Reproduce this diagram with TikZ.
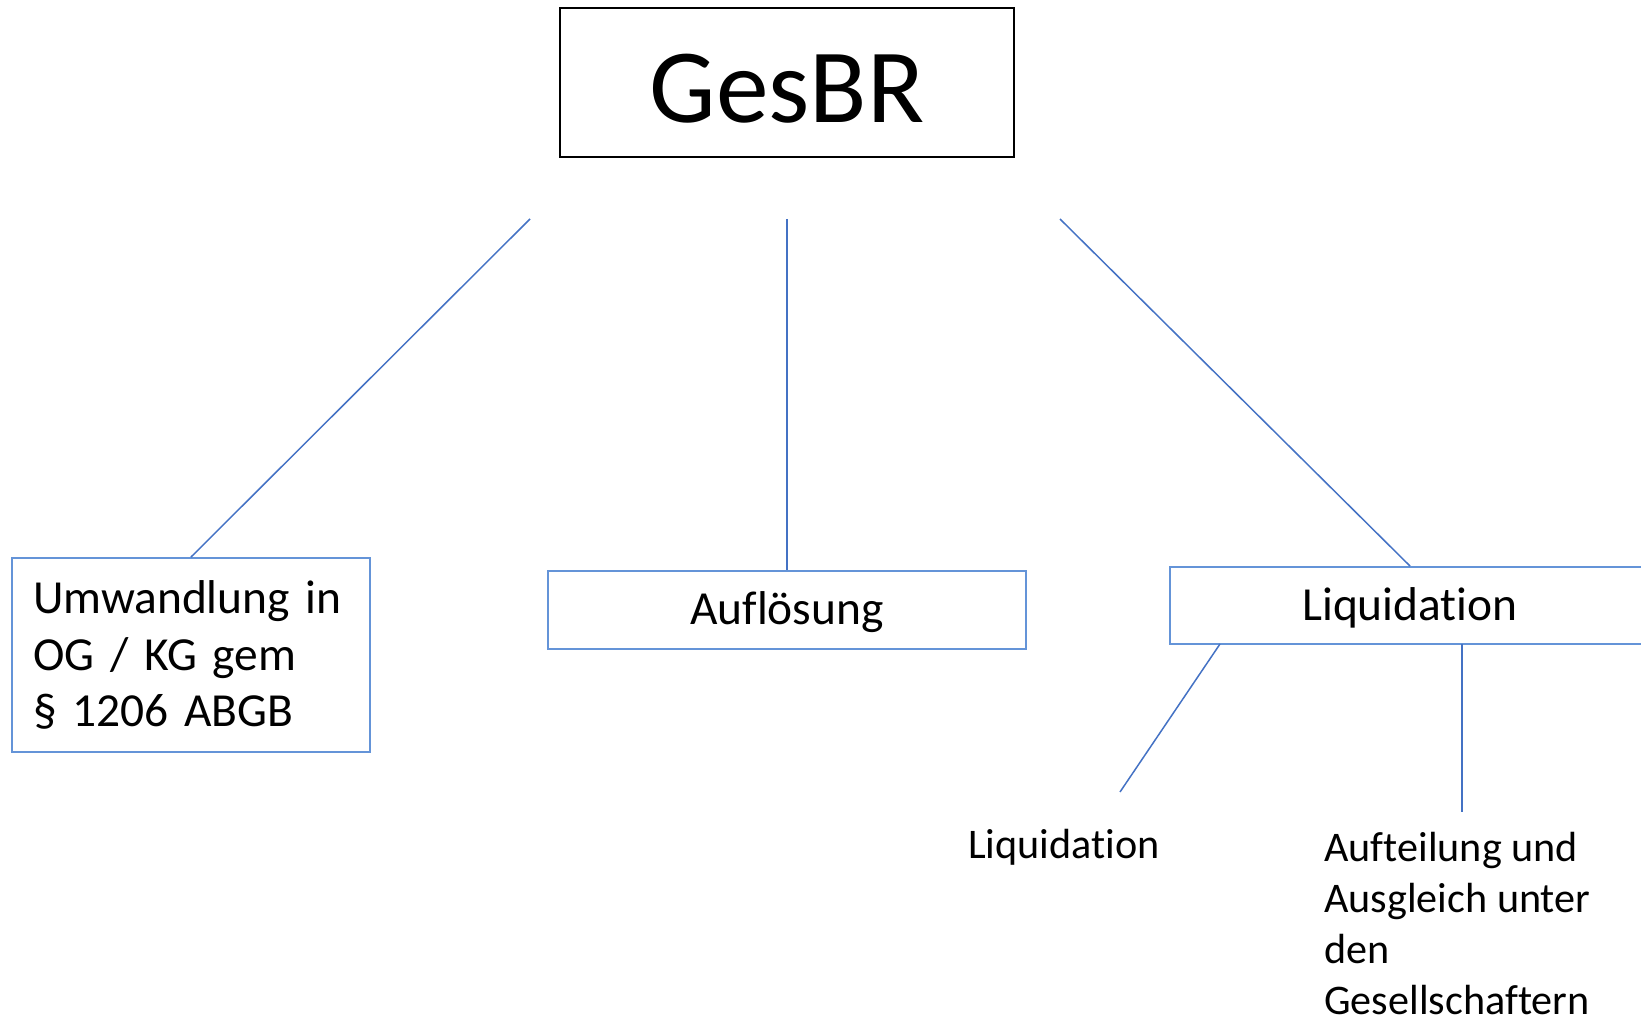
\documentclass[tikz,border=0pt]{standalone}
\usepackage{fontspec}
\setmainfont{Carlito}[Ligatures={NoCommon,NoRequired,NoContextual}]
\definecolor{linkblue}{HTML}{4472C4}
\definecolor{boxblue}{HTML}{6494D8}

\begin{document}
\begin{tikzpicture}[x=0.02cm,y=-0.02cm,
  headbox/.style={draw=black,line width=1.1pt,minimum width=9.08cm,minimum height=2.98cm,
    text height=45pt,text depth=0pt,font=\fontsize{60}{72}\selectfont},
  subbox/.style={draw=boxblue,line width=1.1pt,font=\fontsize{27}{32.4}\selectfont},
  leaf/.style={font=\fontsize{24}{29}\selectfont,inner sep=0pt},
  link/.style={draw=linkblue,line width=0.85pt}]
\useasboundingbox (0,0) rectangle (1641,1023);
\clip (0,0) rectangle (1641,1023);
%% nodes
\node[headbox] (gesbr) at (787,82.5) {GesBR};
\node[subbox,text width=6.32cm,inner xsep=0.42cm,minimum height=3.88cm,align=left] (umw) at (191,655)
  {Umwandlung in\\OG / KG gem\\§ 1206 ABGB};
\node[subbox,minimum width=9.56cm,minimum height=1.56cm,text depth=2pt] (aufl) at (787,610) {Auflösung};
\node[subbox,minimum width=9.6cm,minimum height=1.54cm,text depth=2pt] (liq) at (1410,605.5) {Liquidation};
\node[leaf] (liqsub) at (1064,847) {Liquidation};
\node[leaf,anchor=north west,align=left] (aufteil) at (1324,832)
  {Aufteilung und\\Ausgleich unter\\den\\Gesellschaftern};
%% free ends
\coordinate (gL) at (530,219);
\coordinate (gM) at (787,219);
\coordinate (gR) at (1060,219);
\coordinate (lA) at (1220,644);
\coordinate (lB) at (1462,644);
\coordinate (eA) at (1120,792);
\coordinate (eB) at (1462,812);
%%% edges
\draw[link] (gL) -- (umw.north);
\draw[link] (gM) -- (aufl.north);
\draw[link] (gR) -- (liq.north);
\draw[link] (lA) -- (eA);
\draw[link] (lB) -- (eB);
\end{tikzpicture}
\end{document}
